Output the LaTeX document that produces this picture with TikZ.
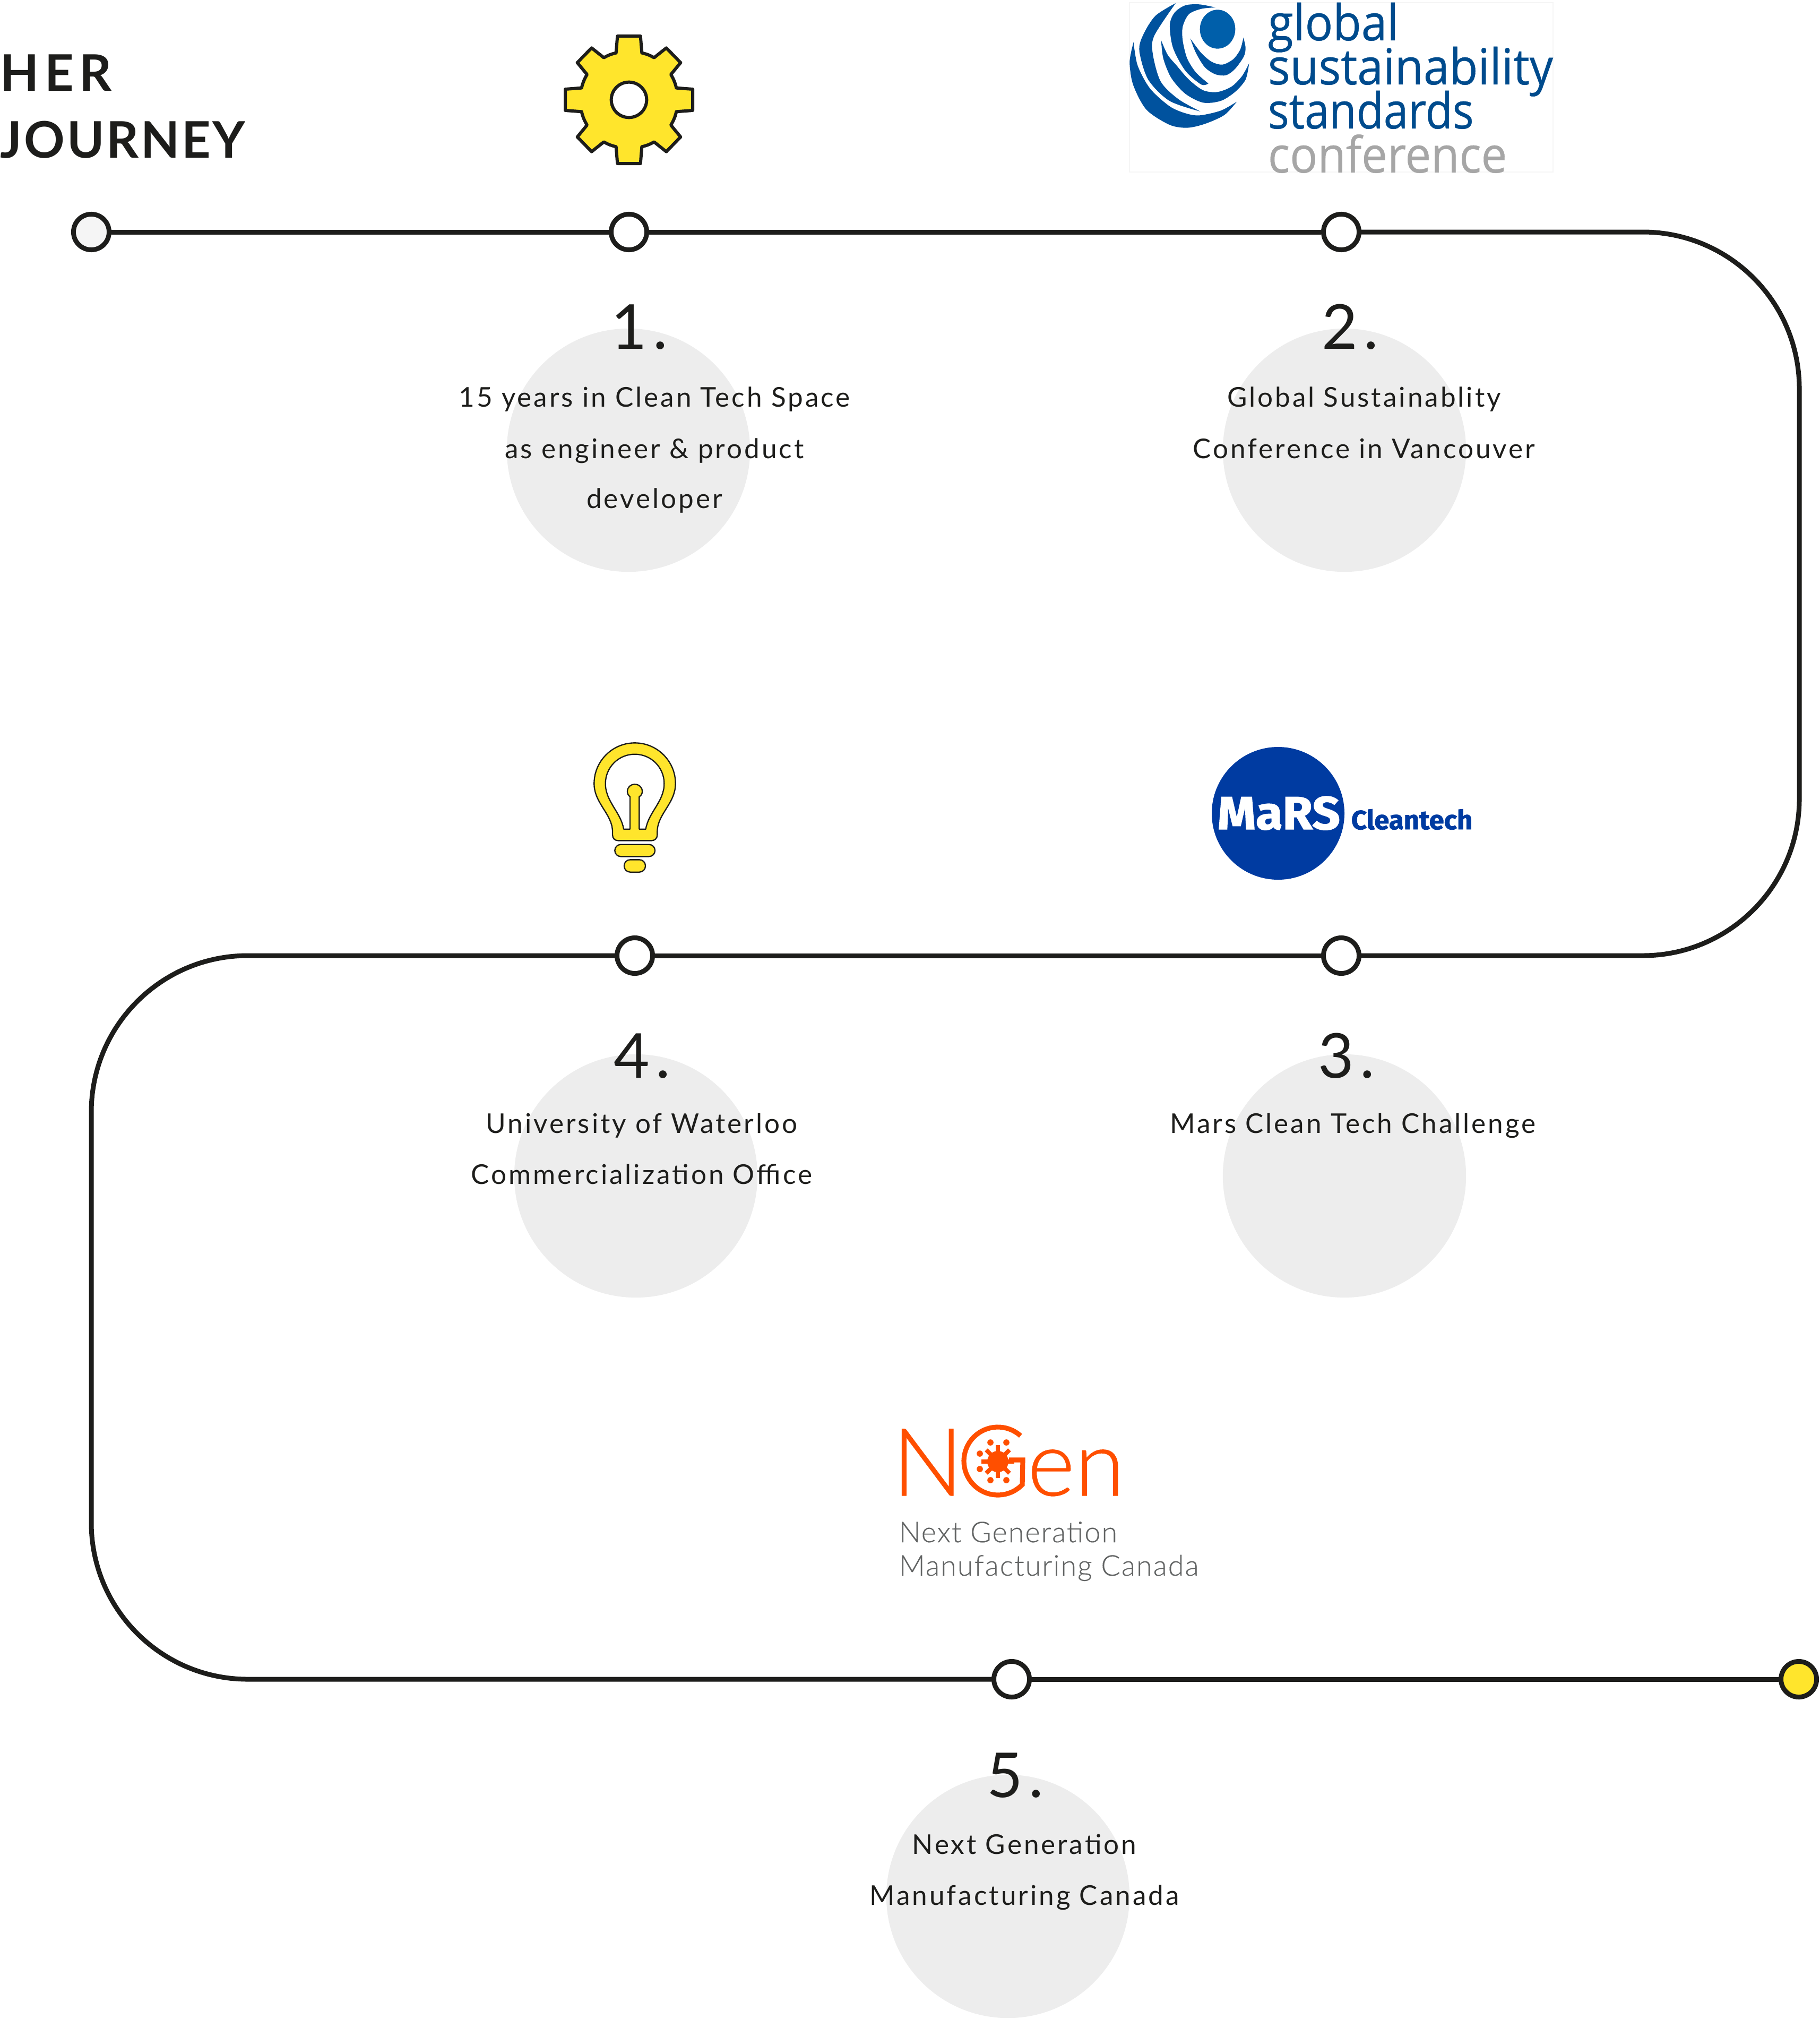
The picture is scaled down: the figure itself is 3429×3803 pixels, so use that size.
\documentclass[tikz,border=0pt]{standalone}
\usepackage{fontspec}
\setmainfont{Lato}
\newfontfamily\bodyf[LetterSpace=7.8]{Lato}
\newfontfamily\numf[LetterSpace=10]{Lato}
\newfontfamily\titlef[LetterSpace=11]{Lato}
\newfontfamily\titlefb[LetterSpace=4]{Lato}
\newfontfamily\gsf[FakeBold=0.5]{Open Sans}
\newfontfamily\marsf[BoldFeatures={FakeBold=1.6}]{Fira Sans}
\newfontfamily\ngenf[FakeBold=0.6]{Lato Light}
\newfontfamily\ngensubf[LetterSpace=3.5,FakeBold=0.2]{Lato Light}
\definecolor{ink}{HTML}{1D1D1B}
\definecolor{sun}{HTML}{FFE52C}
\definecolor{disc}{HTML}{EDEDED}
\definecolor{startc}{HTML}{F5F5F5}
\definecolor{gsblue}{HTML}{004B8D}
\definecolor{gsswirl}{HTML}{00529E}
\definecolor{gscore}{HTML}{005FAA}
\definecolor{gsgrey}{HTML}{A6A6A6}
\definecolor{marsblue}{HTML}{003BA1}
\definecolor{ngen}{HTML}{FF4F00}
\definecolor{ngengrey}{HTML}{626464}
\tikzset{
  stopnode/.style={circle,draw=ink,line width=2.16pt,fill=white,minimum size=16.1pt,inner sep=0pt},
  track/.style={draw=ink,line width=2.16pt},
  discnode/.style={circle,fill=disc,minimum size=110pt,inner sep=0pt},
  bodytext/.style={anchor=base,inner sep=0pt,text=ink,font=\fontsize{12.3pt}{14pt}\bodyf},
  numtext/.style={anchor=base,inner sep=0pt,text=ink,font=\fontsize{28pt}{30pt}\numf},
  titletext/.style={anchor=base west,inner sep=0pt,text=ink},
  gstext/.style={anchor=base west,inner sep=0pt,text=gsblue,font=\fontsize{22.5pt}{23pt}\gsf},
  ngensub/.style={anchor=base west,inner sep=0pt,text=ngengrey,font=\fontsize{13pt}{14pt}\ngensubf},
  iconline/.style={draw=ink,fill=sun,line join=round},
}
\begin{document}
\begin{tikzpicture}[x=0.24pt,y=-0.24pt]
\useasboundingbox (0,0) rectangle (3429,3803);
% discs
\node[discnode] (d1) at (1184,848) {};
\node[discnode] (d2) at (2533,848) {};
\node[discnode] (d3) at (2533,2215) {};
\node[discnode] (d4) at (1198,2215) {};
\node[discnode] (d5) at (1899,3572) {};
% stops
\node[stopnode,fill=startc] (n0) at (172,437) {};
\node[stopnode] (n1) at (1185,437) {};
\node[stopnode] (n2) at (2527,437) {};
\node[stopnode] (n3) at (2527,1800) {};
\node[stopnode] (n4) at (1196,1800) {};
\node[stopnode] (n5) at (1906,3163) {};
\node[stopnode,fill=sun] (n6) at (3389,3163) {};
\coordinate (c1) at (3390,437);
\coordinate (c2) at (3390,1800);
\coordinate (c3) at (172,1800);
\coordinate (c4) at (172,3163);
\draw[track] (n0) -- (n1);
\draw[track] (n1) -- (n2);
\draw[track,rounded corners=70.8pt] (n2.east) -- (c1) -- (c2) -- (n3.east);
\draw[track] (n3) -- (n4);
\draw[track,rounded corners=70.8pt] (n4.west) -- (c3) -- (c4) -- (n5.west);
\draw[track] (n5) -- (n6);
% title
\node[titletext,font=\fontsize{22.8pt}{24pt}\titlef\bfseries] (t1) at (0,172) {HER};
\node[titletext,font=\fontsize{22.8pt}{24pt}\titlefb\bfseries] (t2) at (0,298) {JOURNEY};
% numbers
\node[numtext] (k1) at (1205,657) {1.};
\node[numtext] (k2) at (2544,657) {2.};
\node[numtext] (k3) at (2537,2030) {3.};
\node[numtext] (k4) at (1210,2030) {4.};
\node[numtext] (k5) at (1913,3385) {5.};
% texts
\node[bodytext] (a1) at (1233,766) {15 years in Clean Tech Space};
\node[bodytext] (a2) at (1233,863) {as engineer \& product};
\node[bodytext] (a3) at (1233,957) {developer};
\node[bodytext] (b1) at (2570,766) {Global Sustainablity};
\node[bodytext] (b2) at (2570,863) {Conference in Vancouver};
\node[bodytext] (c1t) at (2549,2134) {Mars Clean Tech Challenge};
\node[bodytext] (e1) at (1209,2134) {University of Waterloo};
\node[bodytext] (e2) at (1209,2230) {Commercialization Office};
\node[bodytext] (f1) at (1930,3492) {Next Generation};
\node[bodytext] (f2) at (1930,3588) {Manufacturing Canada};
% gear
\begin{scope}[shift={(1185,188)},x=0.08pt,y=-0.08pt]
\draw[iconline,line width=1.44pt]
 (-65,-360) -- (65,-360) -- (73,-265) to[bend left=8] (142,-238) -- (211,-293) -- (292,-210) -- (237,-143)
 to[bend left=8] (268,-67) -- (360,-60) -- (360,60) -- (268,67) to[bend left=8] (237,143) -- (292,210) -- (211,293) -- (142,238)
 to[bend left=8] (73,265) -- (65,360) -- (-65,360) -- (-73,265) to[bend left=8] (-142,238) -- (-211,293) -- (-292,210) -- (-237,143)
 to[bend left=8] (-268,67) -- (-360,60) -- (-360,-60) -- (-268,-67) to[bend left=8] (-237,-143) -- (-292,-210) -- (-211,-293) -- (-142,-238)
 to[bend left=8] (-73,-265) -- cycle;
\draw[draw=ink,fill=white,line width=1.44pt] (0,0) circle[radius=8pt];
\end{scope}
% bulb
\begin{scope}[shift={(1050,1370)},x=0.08pt,y=-0.08pt]
\draw[iconline,line width=0.56pt,even odd rule]
 (208,318) .. controls (208,191) and (311,88) .. (438,88) .. controls (565,88) and (668,191) .. (668,318)
 .. controls (668,430) and (565,490) .. (565,590) -- (565,608) .. controls (565,628) and (550,640) .. (533,640)
 -- (343,640) .. controls (326,640) and (312,628) .. (312,608) -- (312,590) .. controls (312,490) and (208,430) .. (208,318) -- cycle
 (604,318) .. controls (604,420) and (515,480) .. (500,575) -- (463,575) -- (463,392)
 .. controls (475,385) and (480,375) .. (480,362) .. controls (480,338) and (462,322) .. (438,322)
 .. controls (414,322) and (396,338) .. (396,362) .. controls (396,375) and (401,385) .. (411,392)
 -- (411,575) -- (375,575) .. controls (360,480) and (272,420) .. (272,318)
 .. controls (272,226) and (346,152) .. (438,152) .. controls (530,152) and (604,226) .. (604,318) -- cycle;
\draw[iconline,line width=0.56pt,rounded corners=2.7pt] (325,662) rectangle (552,730);
\draw[iconline,line width=0.56pt,rounded corners=2.7pt] (378,748) rectangle (498,818);
\end{scope}
% global sustainability logo
\draw[draw=black!4,line width=0.3pt] (2128,5) rectangle (2926,324);
\begin{scope}[shift={(2120,0)},x=0.08pt,y=-0.08pt]
\fill[gsswirl] plot[smooth] coordinates {(47,238) (25,350) (45,480) (120,620) (250,705) (350,722) (450,700) (560,650) (630,575)}
  -- plot[smooth] coordinates {(630,575) (540,625) (420,652) (340,640) (250,600) (140,500) (70,370) (47,238)} -- cycle;
\fill[gsswirl] plot[smooth] coordinates {(285,18) (170,90) (100,200) (80,290) (130,450) (250,570) (425,630)}
  -- plot[smooth] coordinates {(425,630) (300,560) (200,460) (155,300) (165,200) (285,18)} -- cycle;
\fill[gsswirl] plot[smooth] coordinates {(203,228) (215,330) (260,440) (340,530) (440,580) (540,570) (620,520) (680,450) (700,358)}
  -- plot[smooth] coordinates {(700,358) (660,430) (600,490) (520,520) (440,510) (360,450) (290,370) (240,310) (203,228)} -- cycle;
\fill[gsswirl] plot[smooth] coordinates {(510,42) (420,25) (340,30) (280,70) (252,140) (270,270) (340,400) (430,478) (470,472)}
  -- plot[smooth] coordinates {(470,472) (400,410) (350,330) (325,230) (325,150) (360,80) (430,50) (510,42)} -- cycle;
\fill[gsswirl] plot[smooth] coordinates {(368,218) (400,300) (450,380) (510,420) (570,425) (620,390) (670,320) (680,270) (668,212)}
  -- plot[smooth] coordinates {(668,212) (650,280) (610,335) (550,365) (490,350) (430,300) (368,218)} -- cycle;
\fill[gscore] (522,165) ellipse[x radius=8pt,y radius=8.8pt];
\end{scope}
\node[gstext] (g1) at (2388,76) {\scalebox{.93}[1]{global}};
\node[gstext] (g2) at (2388,159) {\scalebox{.935}[1]{sustainability}};
\node[gstext] (g3) at (2388,242) {\scalebox{.89}[1]{standards}};
\node[gstext,text=gsgrey] (g4) at (2388,325) {\scalebox{.925}[1]{conference}};
% MaRS logo
\node[circle,fill=marsblue,minimum size=60pt,inner sep=0pt] (m0) at (2408,1532) {};
\node[anchor=base west,inner sep=0pt,text=white,font=\fontsize{21pt}{22pt}\marsf\bfseries] (m1) at (2293,1562) {\scalebox{1.05}[1]{MaRS}};
\node[anchor=base west,inner sep=0pt,text=marsblue,font=\fontsize{12pt}{13pt}\marsf\bfseries] (m2) at (2545,1562) {\scalebox{1.015}[1]{Cleantech}};
% NGen logo
\node[anchor=base west,inner sep=0pt,text=ngen,font=\fontsize{42.5pt}{44pt}\ngenf] (ng1) at (1680,2817) {N};
\node[anchor=base west,inner sep=0pt,text=ngen,font=\fontsize{41pt}{42pt}\ngenf] (ng2) at (1935,2817) {en};
\draw[ngen,line width=2.2pt] plot[domain=48:316,samples=50] ({1880+64*cos(\x)},{2752-64*sin(\x)}) -- (1927,2750) -- (1901,2750);
\fill[ngen] (1880,2753) circle[radius=4.8pt];
\foreach \a in {0,45,...,315}{\draw[ngen,line width=1.9pt] (1880,2753) -- ({1880+31*cos(\a)},{2753+31*sin(\a)});}
\foreach \p/\q in {1866/2717,1896/2717,1846/2738,1846/2767,1866/2788,1896/2788}{\fill[ngen] (\p,\q) circle[radius=1.4pt];}
\node[ngensub] (ng3) at (1693,2905) {Next Generation};
\node[ngensub] (ng4) at (1693,2968) {Manufacturing Canada};
\end{tikzpicture}
\end{document}
